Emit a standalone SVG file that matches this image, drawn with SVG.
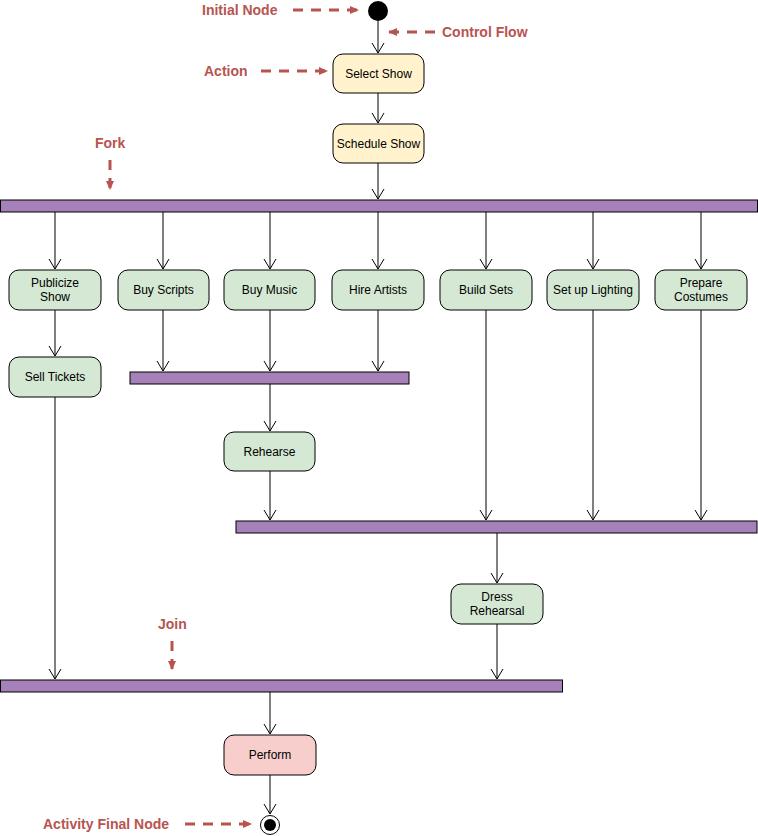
<svg xmlns="http://www.w3.org/2000/svg" width="758" height="836" viewBox="0 0 758 836">
<style>
.n{stroke:#000;stroke-width:1}
.y{fill:#fff2cc}.g{fill:#d5e8d4}.p{fill:#f8cecc}
.bar{fill:#a680b8;stroke:#000;stroke-width:1}
.t{font-family:"Liberation Sans",Arial,sans-serif;font-size:12px;fill:#000;text-anchor:middle}
.a{font-family:"Liberation Sans",Arial,sans-serif;font-size:14px;font-weight:bold;fill:#b85450}
.c{stroke:#000;stroke-width:1;fill:none;marker-end:url(#open)}
.d{stroke:#b85450;stroke-width:3;stroke-dasharray:10 8;fill:none;marker-end:url(#fill)}
</style>
<defs>
<marker id="open" markerWidth="12" markerHeight="14" refX="10" refY="7" orient="auto" markerUnits="userSpaceOnUse"><path d="M0,1 L10,7 L0,13" fill="none" stroke="#000"/></marker>
<marker id="fill" markerWidth="10" markerHeight="10" refX="8" refY="5" orient="auto" markerUnits="userSpaceOnUse"><path d="M0,1 L9,5 L0,9 Z" fill="#b85450"/></marker>
</defs>
<g id="connectors">
<path class="c" d="M378,21 V53"/>
<path class="c" d="M378,93 V123"/>
<path class="c" d="M378,163 V199"/>
<path class="c" d="M55,212 V269"/><path class="c" d="M163,212 V269"/><path class="c" d="M270,212 V269"/><path class="c" d="M378,212 V269"/><path class="c" d="M486,212 V269"/><path class="c" d="M593,212 V269"/><path class="c" d="M701,212 V269"/>
<path class="c" d="M55,310 V356"/>
<path class="c" d="M163,310 V371"/><path class="c" d="M270,310 V371"/><path class="c" d="M378,310 V371"/>
<path class="c" d="M270,384 V431"/>
<path class="c" d="M270,471 V520"/><path class="c" d="M486,310 V520"/><path class="c" d="M593,310 V520"/><path class="c" d="M701,310 V520"/>
<path class="c" d="M497,533 V583"/>
<path class="c" d="M55,397 V679"/><path class="c" d="M497,624 V679"/>
<path class="c" d="M270,692 V734"/>
<path class="c" d="M270,775 V814"/>
</g>
<g id="initial"><circle cx="378" cy="11" r="10" fill="#000"/></g>
<g id="selectShow"><rect class="n y" x="333" y="54" width="91" height="39" rx="10"/><text class="t" x="378.5" y="78">Select Show</text></g>
<g id="scheduleShow"><rect class="n y" x="333" y="124" width="91" height="39" rx="10"/><text class="t" x="378.5" y="148">Schedule Show</text></g>
<g id="fork"><rect class="bar" x="0.5" y="200" width="757" height="12"/></g>
<g id="publicize"><rect class="n g" x="9" y="270" width="92" height="40" rx="10"/><text class="t" x="55" y="287">Publicize</text><text class="t" x="55" y="301">Show</text></g>
<g id="buyScripts"><rect class="n g" x="118" y="270" width="91" height="40" rx="10"/><text class="t" x="163.5" y="294">Buy Scripts</text></g>
<g id="buyMusic"><rect class="n g" x="224" y="270" width="91" height="40" rx="10"/><text class="t" x="269.5" y="294">Buy Music</text></g>
<g id="hireArtists"><rect class="n g" x="332" y="270" width="92" height="40" rx="10"/><text class="t" x="378" y="294">Hire Artists</text></g>
<g id="buildSets"><rect class="n g" x="440" y="270" width="92" height="40" rx="10"/><text class="t" x="486" y="294">Build Sets</text></g>
<g id="lighting"><rect class="n g" x="547" y="270" width="92" height="40" rx="10"/><text class="t" x="593" y="294">Set up Lighting</text></g>
<g id="costumes"><rect class="n g" x="655" y="270" width="92" height="40" rx="10"/><text class="t" x="701" y="287">Prepare</text><text class="t" x="701" y="301">Costumes</text></g>
<g id="sellTickets"><rect class="n g" x="9" y="357" width="92" height="40" rx="10"/><text class="t" x="55" y="381">Sell Tickets</text></g>
<g id="join1"><rect class="bar" x="130" y="372" width="279" height="12"/></g>
<g id="rehearse"><rect class="n g" x="224" y="432" width="91" height="39" rx="10"/><text class="t" x="269.5" y="456">Rehearse</text></g>
<g id="join2"><rect class="bar" x="236" y="521" width="521" height="12"/></g>
<g id="dress"><rect class="n g" x="451" y="584" width="92" height="40" rx="10"/><text class="t" x="497" y="601">Dress</text><text class="t" x="497" y="615">Rehearsal</text></g>
<g id="join3"><rect class="bar" x="0.5" y="680" width="562" height="12"/></g>
<g id="perform"><rect class="n p" x="224" y="735" width="92" height="40" rx="10"/><text class="t" x="270" y="759">Perform</text></g>
<g id="final"><circle cx="270" cy="825" r="9.5" fill="#fff" stroke="#000"/><circle cx="270" cy="825" r="6" fill="#000"/></g>
<g id="annotations">
<text class="a" x="202" y="15">Initial Node</text><path class="d" d="M293,10 H358"/>
<text class="a" x="442" y="37">Control Flow</text><path class="d" d="M435,32 H389"/>
<text class="a" x="204" y="76">Action</text><path class="d" d="M261,71 H327"/>
<text class="a" x="95" y="148">Fork</text><path class="d" d="M110,160 V189"/>
<text class="a" x="158" y="629">Join</text><path class="d" d="M172,641 V669"/>
<text class="a" x="43" y="829">Activity Final Node</text><path class="d" d="M185,824 H251"/>
</g>
</svg>
